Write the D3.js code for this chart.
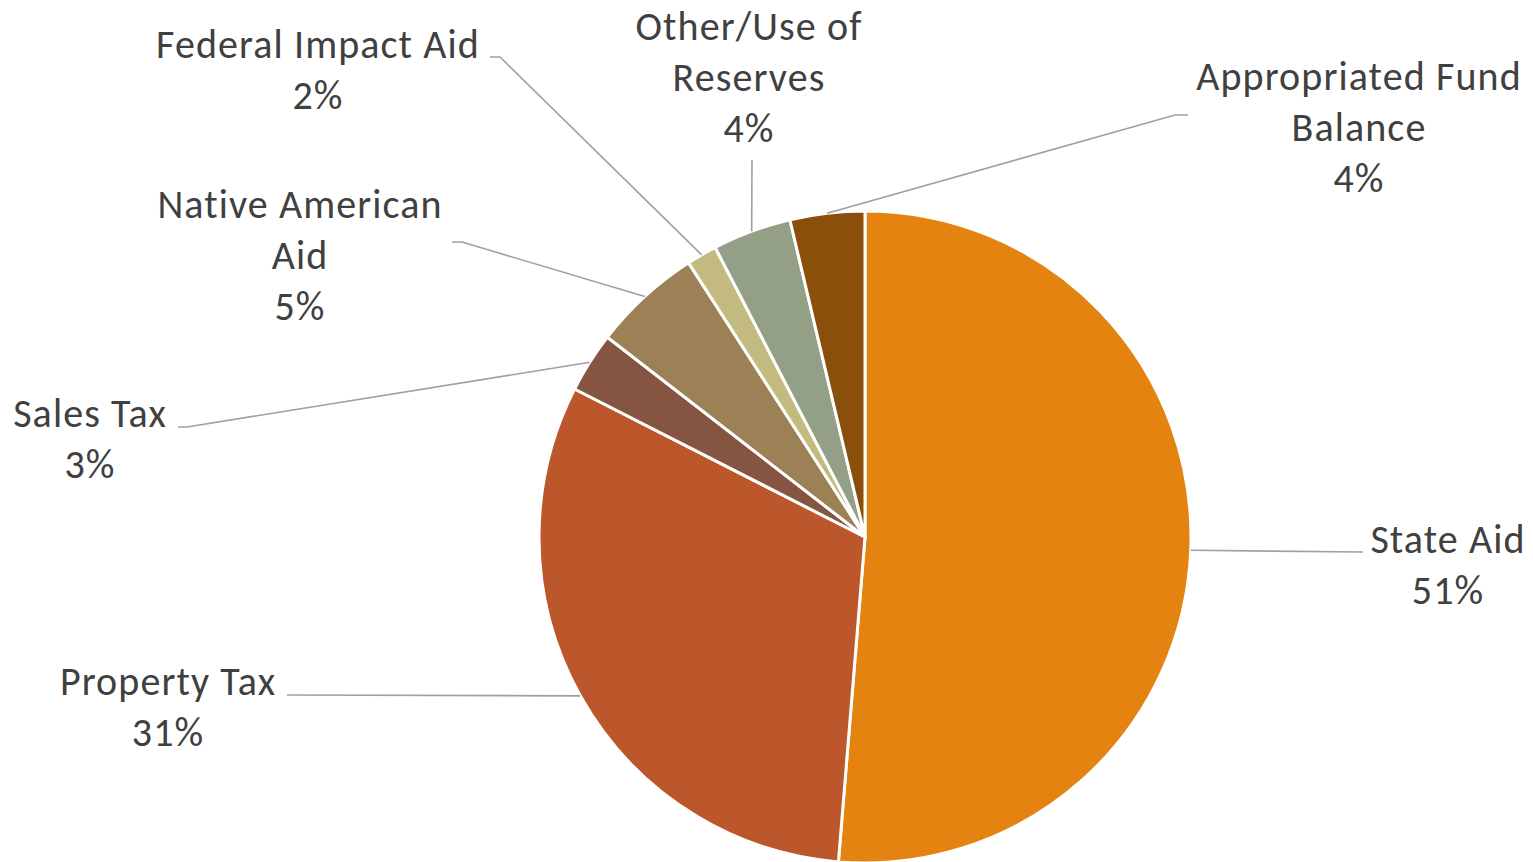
<!DOCTYPE html>
<html>
<head>
<meta charset="utf-8">
<script src="https://cdn.jsdelivr.net/npm/d3@7"></script>
<style>
  body { margin: 0; background: #fff; }
  svg text { font-family: Carlito, Calibri, Lato, sans-serif; fill: #404040; }
</style>
</head>
<body>
<div id="my_dataviz"></div>
<script>
// revenue sources, clockwise from 12 o'clock
var categories = ["State Aid", "Property Tax", "Sales Tax", "Native American Aid",
  "Federal Impact Aid", "Other/Use of Reserves", "Appropriated Fund Balance"];
var shares = [51.3, 31.2, 3.0, 5.4, 1.5, 3.9, 3.7];
var labelLines = [["State Aid"], ["Property Tax"], ["Sales Tax"], ["Native American", "Aid"],
  ["Federal Impact Aid"], ["Other/Use of", "Reserves"], ["Appropriated Fund", "Balance"]];
var colors = ["#E4830F", "#BC572B", "#865541", "#9C8157", "#C2BA7F", "#939F86", "#8A4F0B"];

// label placement (text centre x, first baseline y) and leader line tail points
var labelAt = [[1448, 553], [168, 695], [90, 427], [300, 218], [318, 58], [749, 40], [1359, 90]];
var leaderTail = [
  [[1363, 552]],
  [[287, 695]],
  [[187, 427], [178, 427]],
  [[462, 242], [452, 242]],
  [[500, 57], [490, 57]],
  [[752, 160]],
  [[1175, 115], [1188, 115]]
];

var width = 1533, height = 862;
var cx = 865, cy = 537, radius = 326;
var lineHeight = 51;

var svg = d3
  .select("#my_dataviz")
  .append("svg")
  .attr("id", "svg")
  .attr("width", width)
  .attr("height", height);

var pie = d3.pie().sort(null).value(function (d) { return d; });
var arcs = pie(shares);

var arc = d3.arc().innerRadius(0).outerRadius(radius);
var edgeArc = d3.arc().innerRadius(radius).outerRadius(radius);

var g = svg.append("g").attr("transform", "translate(" + cx + "," + cy + ")");

// slices
g.selectAll(".slice")
  .data(arcs)
  .enter()
  .append("path")
  .attr("class", "slice")
  .attr("d", arc)
  .attr("fill", function (d, i) { return colors[i]; })
  .attr("stroke", "#fff")
  .attr("stroke-width", 3)
  .attr("stroke-linejoin", "round");

// leader lines from slice edge to label
var line = d3.line();
svg.selectAll(".leader")
  .data(arcs)
  .enter()
  .append("path")
  .attr("class", "leader")
  .attr("d", function (d, i) {
    var p = edgeArc.centroid(d);
    var pts = [[p[0] + cx, p[1] + cy]].concat(leaderTail[i]);
    return line(pts);
  })
  .attr("fill", "none")
  .attr("stroke", "#A0A0A0")
  .attr("stroke-width", 1.6);

// labels: name lines + percentage
var labels = svg.selectAll(".label")
  .data(arcs)
  .enter()
  .append("text")
  .attr("class", "label")
  .attr("text-anchor", "middle")
  .attr("font-size", "40px")
  .attr("letter-spacing", "1.1px");

labels.each(function (d, i) {
  var t = d3.select(this);
  var rows = labelLines[i].concat([Math.round(shares[i]) + "%"]);
  rows.forEach(function (r, k) {
    t.append("tspan")
      .attr("x", labelAt[i][0])
      .attr("y", labelAt[i][1] + k * lineHeight)
      .text(r);
  });
});
</script>
</body>
</html>
